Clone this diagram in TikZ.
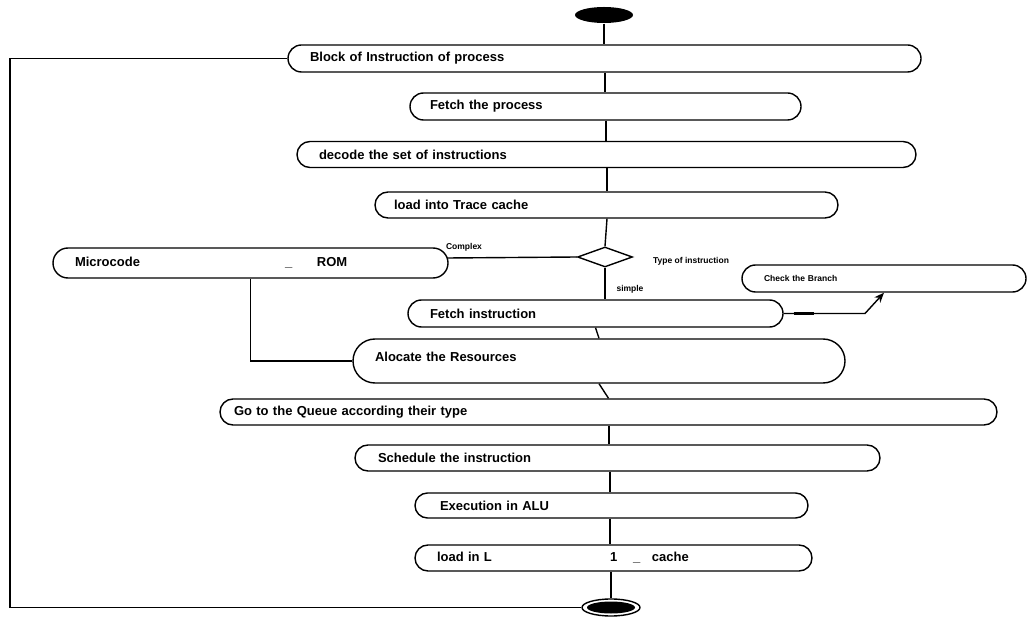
\documentclass[tikz,border=0pt]{standalone}
\usepackage{fontspec}
\setmainfont{Liberation Sans}
\usetikzlibrary{shapes.geometric,arrows.meta,calc}
\begin{document}
\begin{tikzpicture}[x=1pt,y=-1pt,
  line width=1.4pt,
  act/.style n args={4}{draw, rectangle, rounded corners=#4pt,
    minimum width=#1pt, minimum height=#2pt, text width=#3pt,
    align=left, inner sep=0pt, font=\bfseries\fontsize{13}{15}\selectfont},
  small/.style={font=\bfseries\fontsize{8.5}{10}\selectfont, inner sep=0pt},
  lbl/.style={small}]
\useasboundingbox (0,0) rectangle (1028,617);
\coordinate (ca) at (605,0);
\coordinate (cb) at (606,0);
\coordinate (cc) at (607,0);
\coordinate (cd) at (609,0);
\coordinate (ce) at (610,0);

\node[fill, ellipse, minimum width=58pt, minimum height=16pt, inner sep=0pt] (start) at (604,15) {};

\node[act={633}{27}{589}{13.5}] (n1) at (604.5,58.5) {Block of Instruction of process};
\node[act={391}{27}{351}{13.5}] (n2) at (605.5,106.5) {Fetch the process};
\node[act={619}{26}{575}{13}] (n3) at (606.5,154.5) {decode the set of instructions};
\node[act={463}{26}{425}{13}] (n4) at (606.5,205) {load into Trace cache};

\node[draw, diamond, minimum width=55pt, minimum height=20pt, inner sep=0pt] (dia) at (605,257) {};
\node[act={395}{30}{351}{15}] (micro) at (250.5,263)
  {\makebox[210pt][l]{Microcode}\makebox[32pt][l]{\_}ROM};
\node[act={375}{27}{331}{13.5}] (fetchI) at (595.5,313.5) {Fetch instruction};
\node[act={284}{27}{240}{13.5}, font=\bfseries\fontsize{8.5}{10}\selectfont] (check) at (884,278.5) {Check the Branch};
\node[act={492}{44}{448}{22}, text depth=8pt] (alloc) at (599,361) {Alocate the Resources};
\node[act={777}{26}{749}{13}] (queue) at (608.5,412) {Go to the Queue according their type};
\node[act={525}{26}{479}{13}] (sched) at (617.5,458) {Schedule the instruction};
\node[act={393}{25}{343}{12.5}] (exec) at (611.5,505.5) {Execution in ALU};
\node[act={397}{26}{353}{13}] (load) at (613.5,558)
  {\makebox[173pt][l]{load in L}\makebox[23pt][l]{1}\makebox[19pt][l]{\_}cache};

\node[draw, ellipse, minimum width=58pt, minimum height=17pt, inner sep=0pt] (endn) at (611,607.5) {};
\node[fill, ellipse, minimum width=48pt, minimum height=12pt, inner sep=0pt] (endin) at (endn) {};

\node[lbl] (lcomplex) at (464,247) {Complex};
\node[lbl] (ltype) at (691,261) {Type of instruction};
\node[lbl] (lsimple) at (630,289) {simple};

\draw (start) -- (n1.north -| start);
\draw (n1.south -| ca) -- (n2.north -| ca);
\draw (n2.south -| cb) -- (n3.north -| cb);
\draw (n3.south -| cc) -- (n4.north -| cc);
\draw (n4.south -| cc) -- (dia.north);
\coordinate (mtip) at ($(micro.east)+(-1.5,-5)$);
\draw (dia.west) -- (mtip);
\draw (dia.south) -- (fetchI.north -| dia);
\draw (fetchI.south) -- (alloc.north);
\draw (micro.south) |- (alloc.west);
\draw (alloc.south) -- (queue.north);
\draw (queue.south -| cd) -- (sched.north -| cd);
\draw (sched.south -| ce) -- (exec.north -| ce);
\draw (exec.south -| ce) -- (load.north -| ce);
\draw (load.south -| endn) -- (endn);

\coordinate (ab) at (865,313.5);
\draw[-{Stealth[length=10pt,width=8pt]}] (fetchI.east) -- (ab) -- (check.south);
\draw[line width=3.5pt] ($(fetchI.east)+(10,0)$) -- ($(fetchI.east)+(30,0)$);

\coordinate (lt) at (10,58.5);
\coordinate (lb) at (10,607.5);
\draw (n1.west) -- (lt) -- (lb) -- (endn.west);
\end{tikzpicture}
\end{document}
